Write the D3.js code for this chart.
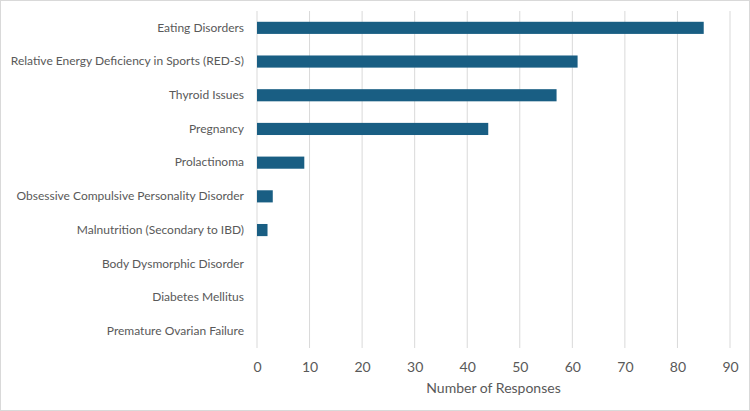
<!DOCTYPE html>
<html><head><meta charset="utf-8">
<script src="https://cdn.jsdelivr.net/npm/d3@7"></script>
<style>body{margin:0;background:#fff}svg{display:block}</style>
</head><body>
<script>
const categories = ["Eating Disorders","Relative Energy Deficiency in Sports (RED-S)","Thyroid Issues","Pregnancy","Prolactinoma","Obsessive Compulsive Personality Disorder","Malnutrition (Secondary to IBD)","Body Dysmorphic Disorder","Diabetes Mellitus","Premature Ovarian Failure"];
const responses = [85,61,57,44,9,3,2,0,0,0];
const xTicks = [0,10,20,30,40,50,60,70,80,90];
const xTitle = "Number of Responses";

const W=750,H=411;
const svg=d3.select("body").append("svg").attr("width",W).attr("height",H);
svg.append("rect").attr("x",0.5).attr("y",0.5).attr("width",W-1).attr("height",H-1).attr("fill","#fff").attr("stroke","#d9d9d9");
const m={l:257,r:20,t:11,b:63};
const x=d3.scaleLinear().domain([0,90]).range([m.l,W-m.r]);
const y=d3.scaleBand().domain(categories).range([m.t,H-m.b]).paddingInner(0.64).paddingOuter(0.32);
const font="Lato, 'Open Sans', sans-serif";
// gridlines
svg.append("g").selectAll("line").data(xTicks).join("line")
  .attr("x1",d=>x(d)).attr("x2",d=>x(d)).attr("y1",m.t).attr("y2",H-m.b)
  .attr("stroke","#d9d9d9").attr("stroke-width",1);
// bars
svg.append("g").selectAll("rect").data(categories).join("rect")
  .attr("x",x(0)).attr("y",d=>y(d)).attr("height",y.bandwidth())
  .attr("width",(d,i)=>x(responses[i])-x(0)).attr("fill","#195e83");
// x axis
const xa=svg.append("g").attr("transform",`translate(0,${H-m.b})`)
  .call(d3.axisBottom(x).tickValues(xTicks).tickSize(0).tickPadding(14));
xa.select(".domain").remove();
xa.selectAll("text").attr("font-family",font).attr("font-size",14).attr("fill","#595959");
// y axis
const ya=svg.append("g").attr("transform",`translate(${m.l},0)`)
  .call(d3.axisLeft(y).tickSize(0).tickPadding(13));
ya.select(".domain").remove();
ya.selectAll("text").attr("font-family",font).attr("font-size",12).attr("fill","#595959");
svg.append("text").attr("x",(x(0)+x(90))/2).attr("y",393).attr("text-anchor","middle")
  .attr("font-family",font).attr("font-size",14).attr("fill","#595959").text(xTitle);
</script>
</body></html>
